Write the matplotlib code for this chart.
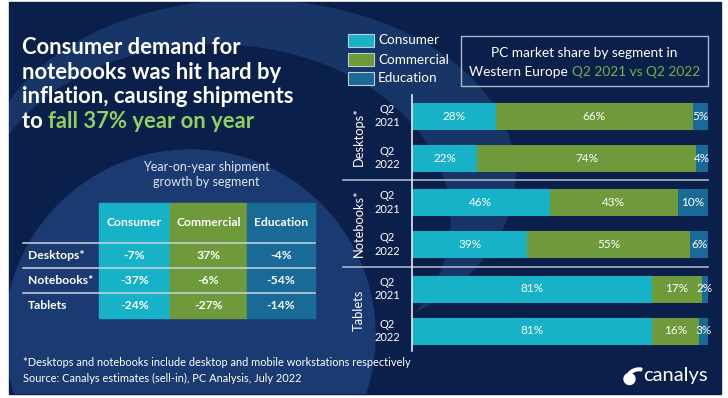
import numpy as np
import matplotlib.pyplot as plt
from matplotlib.patches import Rectangle, Ellipse, Circle, Wedge

plt.rcParams['font.family'] = ['Lato', 'DejaVu Sans']

# colours
NAVY = '#0b1f4b'
segments = ['Consumer', 'Commercial', 'Education']
seg_colors = ['#17b2c7', '#6e9a3c', '#1a6a98']
GREEN_TXT = '#8fcf63'

# market share by segment (Western Europe)
groups = ['Desktops*', 'Notebooks*', 'Tablets']
periods = ['Q2\n2021', 'Q2\n2022']
consumer_share = [28, 22, 46, 39, 81, 81]
commercial_share = [66, 74, 43, 55, 17, 16]
education_share = [5, 4, 10, 6, 2, 3]

# year-on-year shipment growth
table_rows = ['Desktops*', 'Notebooks*', 'Tablets']
yoy_consumer = [-7, -37, -24]
yoy_commercial = [37, -6, -27]
yoy_education = [-4, -54, -14]

fig = plt.figure(figsize=(7.28, 3.98), dpi=100)
fig.patch.set_facecolor('white')
bg = fig.add_axes([0, 0, 1, 1])
bg.set_xlim(0, 728)
bg.set_ylim(398, 0)
bg.axis('off')

# background panel with soft arcs
panel = Rectangle((9, 2), 712, 392, color=NAVY, zorder=0)
bg.add_patch(panel)
for shape in [Ellipse((250, 175), 530, 350, color='#183568'),
              Ellipse((215, 220), 470, 350, color=NAVY),
              Circle((190, 335), 185, color='#1b3a71')]:
    shape.set_zorder(0.5)
    bg.add_patch(shape)
    shape.set_clip_path(panel)

renderer = fig.canvas.get_renderer()


def width_of(t):
    return t.get_window_extent(renderer).width


# headline
title_lines = ['Consumer demand for', 'notebooks was hit hard by',
               'inflation, causing shipments']
for i, line in enumerate(title_lines):
    bg.text(22, 54 + i * 24.7, line, fontsize=15.8, fontweight='bold',
            color='white', va='baseline')
t = bg.text(22, 128, 'to ', fontsize=15.8, fontweight='bold', color='white',
            va='baseline')
bg.text(22 + width_of(t), 128, 'fall 37% year on year', fontsize=15.8,
        fontweight='bold', color=GREEN_TXT, va='baseline')

# table
bg.text(206, 167, 'Year-on-year shipment', fontsize=9, color='#dfe6ef',
        ha='center', va='center')
bg.text(206, 182, 'growth by segment', fontsize=9, color='#dfe6ef',
        ha='center', va='center')
col_edges = [99, 170, 247, 315]
head_top, head_h, row_h = 203, 40, 25
cols = [yoy_consumer, yoy_commercial, yoy_education]
for j, seg in enumerate(segments):
    x0, x1 = col_edges[j], col_edges[j + 1]
    bg.add_patch(Rectangle((x0, head_top), x1 - x0,
                           head_h + row_h * len(table_rows),
                           color=seg_colors[j], zorder=1))
    bg.text((x0 + x1) / 2, head_top + head_h / 2, seg, fontsize=8.7,
            fontweight='bold', color='white', ha='center', va='center',
            zorder=3)
    for i, v in enumerate(cols[j]):
        bg.text((x0 + x1) / 2, head_top + head_h + row_h * (i + 0.5),
                f'{v}%', fontsize=8.7, fontweight='bold', color='white',
                ha='center', va='center', zorder=3)
for i, name in enumerate(table_rows):
    y = head_top + head_h + row_h * i
    bg.plot([23, col_edges[-1]], [y, y], color='#c9d4e3', lw=1.1, zorder=2)
    bg.text(28, y + row_h / 2, name, fontsize=8.7, fontweight='bold',
            color='white', va='center', zorder=3)

# legend
for i, seg in enumerate(segments):
    y = 34 + i * 19
    bg.add_patch(Rectangle((348, y), 26, 13, facecolor=seg_colors[i],
                           edgecolor='#c3cbd9', lw=0.8, zorder=2))
    bg.text(378, y + 6.5, seg, fontsize=9.7, color='white', va='center')

# chart title box
bg.add_patch(Rectangle((461, 36), 247, 50, fill=False, edgecolor='#aeb7c7',
                       lw=1, zorder=2))
bg.text(584.5, 53, 'PC market share by segment in', fontsize=9.8,
        color='white', ha='center', va='center')
p1 = bg.text(0, 72, 'Western Europe ', fontsize=9.8, color='white',
             va='center')
p2 = bg.text(0, 72, 'Q2 2021 vs Q2 2022', fontsize=9.8, color='#74b04a',
             va='center')
w1, w2 = width_of(p1), width_of(p2)
p1.set_x(584.5 - (w1 + w2) / 2)
p2.set_x(584.5 - (w1 + w2) / 2 + w1)

# stacked bars
ax = fig.add_axes([412 / 728, 1 - 351 / 398, 296 / 728, 256 / 398])
ax.set_ylim(351, 95)
ax.set_xlim(0, 100)
ax.patch.set_visible(False)
for s in ['top', 'right', 'bottom']:
    ax.spines[s].set_visible(False)
ax.spines['left'].set_color('#e6ebf2')
ax.spines['left'].set_linewidth(1.2)
ax.set_xticks([])
ax.set_yticks([])

shares = np.array([consumer_share, commercial_share, education_share], float)
totals = shares.sum(axis=0)
pos = np.array([116 + g * 86.5 + i * 42 for g in range(len(groups))
                for i in range(len(periods))])
left = np.zeros(len(pos))
for k in range(len(segments)):
    w = shares[k] / totals * 100
    ax.barh(pos, w, left=left, height=27, color=seg_colors[k])
    for y, l, ww, v in zip(pos, left, w, shares[k]):
        ax.text(l + ww / 2, y, f'{int(v)}%', fontsize=8.5, color='white',
                ha='center', va='center', clip_on=False)
    left += w

for g, name in enumerate(groups):
    yc = pos[2 * g:2 * g + 2].mean()
    bg.text(359, yc, name, rotation=90, fontsize=9.3, color='white',
            ha='center', va='center')
    for i, per in enumerate(periods):
        bg.text(387, pos[2 * g + i], per, fontsize=8, color='white',
                ha='center', va='center', linespacing=1.3)
for g in range(len(groups) - 1):
    ysep = (pos[2 * g + 1] + pos[2 * g + 2]) / 2
    bg.plot([343, 708], [ysep, ysep], color='#a9b6c9', lw=1.2)

# footnotes
bg.text(23, 363, '*Desktops and notebooks include desktop and mobile '
        'workstations respectively', fontsize=7.9, color='white',
        va='center')
bg.text(23, 378, 'Source: Canalys estimates (sell-in), PC Analysis, July 2022',
        fontsize=7.9, color='white', va='center')

# logo
bg.add_patch(Circle((629.5, 379), 5.5, color='white', zorder=3))
bg.add_patch(Wedge((639, 382), 14, 185, 282, width=2.6, color='white',
                   zorder=3))
bg.text(643, 376, 'canalys', fontsize=14.5, color='white', va='center')

fig.savefig('out.png', dpi=100, facecolor='white')
